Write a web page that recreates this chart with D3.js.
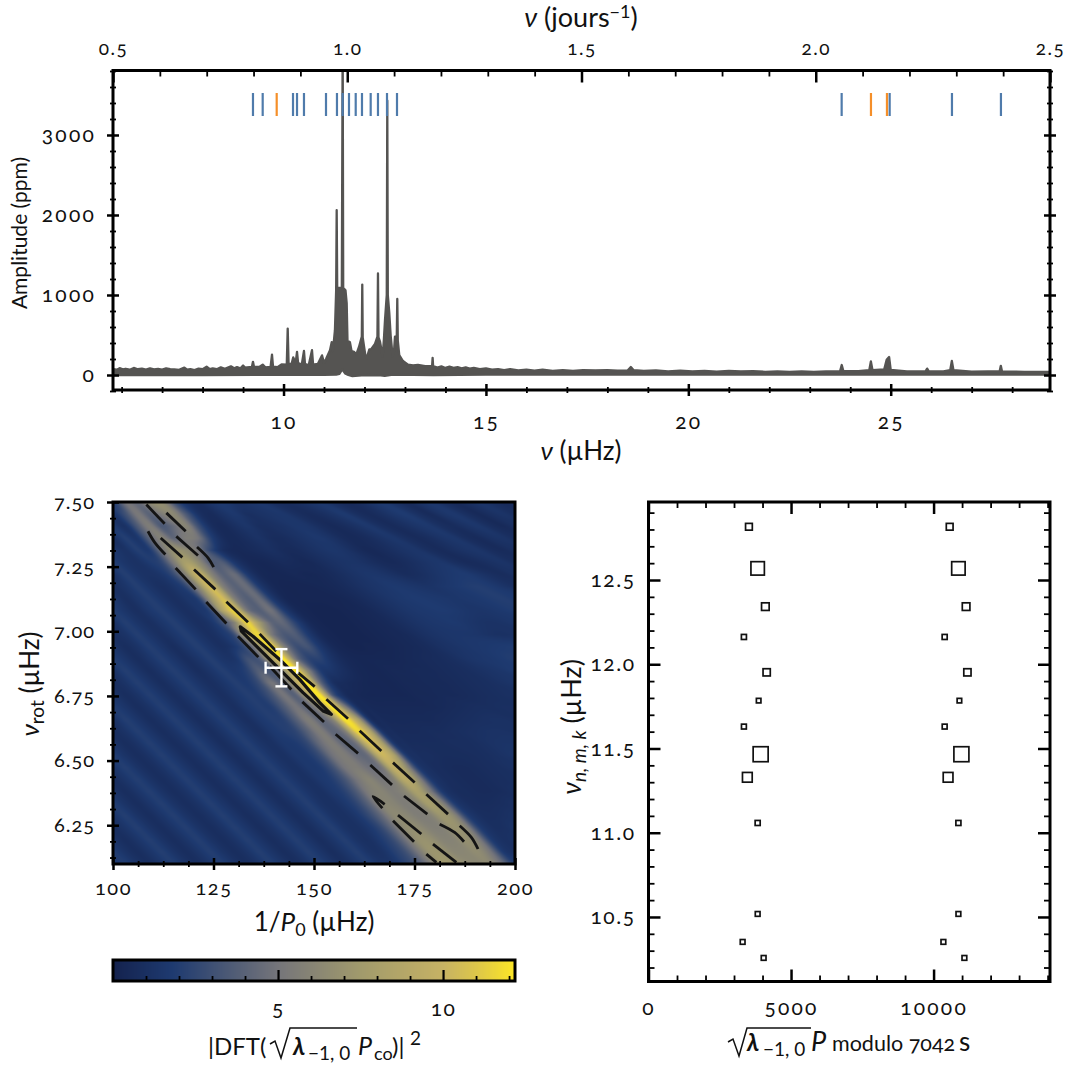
<!DOCTYPE html>
<html><head><meta charset="utf-8">
<script src="https://cdn.jsdelivr.net/npm/d3@7"></script>
<style>
html,body{margin:0;padding:0;background:#fff}
svg{position:absolute;left:0;top:0}
text{font-family:Lato,"Noto Sans",sans-serif;fill:#111;font-variant-numeric:oldstyle-nums}
.ln{font-variant-numeric:lining-nums}
</style></head><body><svg id="c" width="1071" height="1065"></svg>
<script>
// ---- spectrum: upper envelope and lower edge [frequency in uHz, amplitude in ppm] of the densely sampled curve
const specUpper=[[5.79,72],[5.88,66],[5.95,85],[6.03,70],[6.1,78],[6.2,66],[6.3,88],[6.4,72],[6.5,80],[6.6,68],[6.7,84],[6.8,70],[6.9,76],[7,66],[7.1,82],[7.2,72],[7.3,70],[7.42,64],[7.55,92],[7.62,66],[7.7,74],[7.8,62],[7.9,80],[8,72],[8.1,104],[8.18,74],[8.25,84],[8.35,72],[8.45,96],[8.55,78],[8.7,108],[8.78,84],[8.85,98],[8.93,82],[9,118],[9.05,92],[9.1,96],[9.22,102],[9.245,165],[9.27,104],[9.4,100],[9.485,130],[9.55,96],[9.68,100],[9.715,255],[9.74,106],[9.85,98],[9.95,132],[10.08,130],[10.103,580],[10.125,140],[10.2,140],[10.24,220],[10.3,150],[10.333,290],[10.36,150],[10.45,130],[10.505,300],[10.53,140],[10.62,120],[10.703,310],[10.73,130],[10.85,140],[10.95,245],[11,150],[11.05,200],[11.148,310],[11.19,410],[11.22,300],[11.27,560],[11.3,1060],[11.313,2060],[11.326,1090],[11.44,1090],[11.461,4200],[11.474,1090],[11.53,1060],[11.56,900],[11.58,430],[11.64,410],[11.68,300],[11.74,290],[11.8,260],[11.864,350],[11.934,480],[11.945,1130],[11.956,470],[12.02,250],[12.054,210],[12.12,320],[12.16,320],[12.259,390],[12.32,480],[12.333,1270],[12.346,470],[12.383,416],[12.449,230],[12.48,450],[12.506,680],[12.55,1000],[12.563,3430],[12.576,1000],[12.612,780],[12.647,490],[12.696,230],[12.73,300],[12.753,480],[12.797,470],[12.81,950],[12.823,430],[12.859,250],[12.95,175],[13.075,130],[13.2,120],[13.32,125],[13.5,110],[13.67,110],[13.683,215],[13.696,110],[13.8,92],[13.9,108],[14,88],[14.1,104],[14.2,90],[14.3,98],[14.4,84],[14.5,96],[14.6,80],[14.7,88],[14.85,74],[15,82],[15.15,66],[15.3,74],[15.45,62],[15.6,72],[15.8,58],[16,68],[16.2,54],[16.4,66],[16.65,52],[16.9,60],[17.15,50],[17.4,62],[17.7,56],[18,60],[18.25,54],[18.5,56],[18.58,100],[18.65,60],[18.9,50],[19.2,56],[19.5,46],[19.8,54],[20.1,44],[20.4,52],[20.7,42],[21,50],[21.3,44],[21.6,48],[21.9,40],[22.2,46],[22.5,38],[22.8,44],[23.1,38],[23.4,44],[23.75,48],[23.79,125],[23.83,50],[24.2,48],[24.47,60],[24.51,170],[24.55,60],[24.84,70],[24.9,190],[24.96,225],[25,65],[25.4,45],[25.86,45],[25.9,80],[25.94,45],[26.3,45],[26.47,60],[26.51,175],[26.55,60],[27,42],[27.4,45],[27.69,45],[27.72,115],[27.75,45],[28.3,40],[28.94,38]];
const specLower=[[5.79,0],[8,0],[11,2],[11.3,5],[11.38,15],[11.45,70],[11.52,20],[11.6,0],[11.7,-15],[12,0],[12.4,-5],[12.5,-10],[12.7,5],[13.7,0],[15,5],[20,5],[28.94,5]];
// ---- identified modes marked above the spectrum
const rotSplitFreq=[9.245,9.485,10.234,10.333,10.505,11.049,11.32,11.461,11.617,11.783,11.938,12.153,12.333,12.556,12.803,23.788,24.974,26.513,27.723];
const otherFreq=[9.831,24.512,24.907];
// ---- heat map of |DFT|^2 (tenths), rows from nu_rot=7.5 downward, columns from 1/P0=100 rightward
const heatRows=[
[20,50,45,65,65,30,12,8,15,18,12,14,16,10,8,10,14,16,10,6,8,14,18,12,7,12,16,10,6,10,14,10,6,10],
[14,30,52,40,55,62,35,12,7,12,16,10,12,14,15,10,7,9,13,17,10,7,10,15,18,11,7,13,16,10,6,10,13,9],
[18,12,35,55,35,45,60,30,10,6,10,14,9,10,12,15,14,9,6,8,12,16,10,7,10,14,16,10,8,12,15,9,6,10],
[10,20,15,40,58,42,55,50,22,8,6,9,12,8,8,11,14,16,12,7,6,8,12,15,10,7,9,13,15,9,7,11,13,9],
[16,12,20,18,48,68,65,50,25,9,5,6,8,10,7,7,10,13,15,13,8,5,7,10,13,14,9,7,10,13,14,9,7,10],
[20,14,12,18,25,55,80,65,38,36,15,6,4,5,7,6,5,8,11,13,13,10,7,6,8,11,14,15,10,7,8,11,13,9],
[12,20,14,12,15,28,60,100,62,40,45,18,6,4,4,5,4,5,7,10,13,15,14,11,8,9,12,15,17,18,14,10,8,11],
[10,14,20,14,10,14,25,62,105,58,40,45,18,6,3,3,3,4,5,7,10,13,15,17,16,14,13,15,17,19,20,18,14,10],
[16,10,15,20,14,10,14,22,70,105,55,38,45,18,5,3,3,3,3,4,6,9,12,15,17,18,17,16,15,16,17,19,20,18],
[20,14,10,16,20,14,10,14,25,85,112,52,38,48,20,6,3,2,2,3,4,5,8,11,14,16,17,18,17,15,14,15,17,19],
[12,20,14,10,15,20,14,10,14,30,60,115,75,42,42,22,7,3,2,2,3,4,5,7,10,13,15,16,17,15,13,12,13,15],
[10,13,20,14,10,15,20,14,10,16,30,90,115,55,35,36,18,6,3,2,2,3,4,5,6,9,12,14,15,15,14,12,11,12],
[14,9,13,20,14,9,15,20,14,10,16,32,70,120,60,30,32,16,6,3,2,3,3,4,5,6,8,11,13,15,16,17,18,19],
[20,14,9,14,20,14,9,14,20,14,14,30,35,85,120,50,24,22,12,6,4,4,4,4,5,6,7,8,10,13,15,16,18,20],
[12,20,14,9,14,20,14,9,14,20,16,22,38,35,65,120,60,20,14,9,5,4,4,5,5,6,6,7,8,9,11,13,15,18],
[9,13,20,14,9,14,20,14,10,14,20,18,28,50,40,90,120,45,12,7,5,4,4,4,5,5,6,6,7,8,9,10,12,14],
[14,9,13,20,14,9,14,20,14,10,15,20,20,32,50,40,85,120,35,9,5,4,4,4,4,5,5,6,6,7,8,9,10,11],
[20,14,9,13,20,14,9,14,20,14,10,16,20,20,35,50,42,70,120,60,12,6,5,5,5,5,5,6,7,8,9,9,10,10],
[12,20,14,9,13,20,14,9,14,20,14,10,16,20,22,38,55,42,60,120,85,14,7,6,6,6,6,7,8,9,10,11,11,10],
[9,13,20,14,9,13,20,14,9,14,20,14,10,16,20,24,40,55,42,55,115,90,18,8,7,7,8,8,9,10,11,12,12,11],
[13,9,13,20,14,9,13,20,14,9,14,20,14,11,16,18,26,45,55,42,50,105,85,18,9,8,8,8,9,9,10,12,13,13],
[20,13,9,13,20,14,9,13,20,14,9,14,20,14,11,16,18,28,48,55,45,48,100,85,20,10,9,8,8,8,9,10,12,14],
[14,20,13,9,13,20,14,9,13,20,14,9,14,20,14,11,16,18,30,50,55,48,50,95,70,20,10,8,7,7,8,9,10,12],
[9,14,20,13,9,13,20,14,9,13,20,14,9,14,20,14,11,16,20,32,50,60,52,58,90,65,20,10,8,7,7,8,9,10],
[13,9,14,20,13,9,13,20,14,9,13,20,14,9,14,20,14,11,16,22,36,55,60,55,62,80,55,18,9,8,7,7,8,10],
[20,13,9,14,20,13,9,13,20,14,9,13,20,14,9,14,20,13,11,16,24,40,60,60,55,60,78,60,20,10,8,8,9,11],
[14,20,13,9,14,20,13,9,13,20,14,9,13,20,14,9,14,20,13,11,16,26,42,62,62,56,58,72,62,22,11,9,10,12],
[9,14,20,13,9,14,20,13,9,13,20,14,9,13,20,14,9,14,20,13,11,16,26,45,65,65,58,58,70,60,22,11,10,13],
[13,9,14,20,13,9,14,20,13,9,13,20,14,9,13,20,14,9,14,20,13,11,18,28,48,68,68,60,60,68,55,20,11,12],
[20,13,9,14,20,13,9,14,20,13,9,13,20,14,9,13,20,14,9,14,20,13,12,20,30,50,70,70,62,62,65,50,18,11],
[14,20,13,9,14,20,13,9,14,20,13,9,13,20,14,9,13,20,14,9,14,20,14,14,22,32,52,72,72,65,62,62,45,20]];
// ---- dashed contour pieces, as [1/P0, nu_rot] vertices
const contourDashes=[
[[108.3,7.490],[112.85,7.416]],[[113.27,7.458],[118.08,7.387]],
[[108.7,7.387],[110.36,7.344],[113.02,7.297]],[[111.86,7.361],[117.25,7.286]],
[[115.75,7.367],[121.14,7.293]],[[120.9,7.326],[123.63,7.284],[125.04,7.248]],
[[115.59,7.245],[120.56,7.162]],[[120.15,7.239],[125.46,7.162]],
[[123.2,7.113],[128.2,7.030]],[[128.2,7.114],[133.58,7.035]],
[[131.09,6.981],[136.15,6.900]],[[136.48,6.990],[140.63,6.923]],
[[146.02,6.840],[150.17,6.786]],[[138.97,6.865],[144.36,6.775]],
[[147.1,6.727],[152.49,6.649]],[[153.07,6.737],[158.46,6.662]],
[[155.39,6.602],[160.95,6.528]],[[161.36,6.615],[166.75,6.537]],
[[164.01,6.483],[169.4,6.406]],[[169.65,6.492],[175.04,6.415]],
[[172.39,6.363],[178.19,6.293]],[[177.94,6.370],[183.33,6.293]],
[[181.26,6.254],[184.99,6.222],[187.31,6.186]],[[186.24,6.248],[189.14,6.203],[190.8,6.158]],
[[179.6,6.177],[185.41,6.106]],[[177.94,6.138],[180.43,6.106]],
[[170.9,6.289],[176.7,6.216]],[[169.65,6.267],[174.88,6.186]],
[[167,6.316],[164.68,6.361],[167.58,6.331]]];
const innerContour=[[131.67,7.017],[134.83,6.981],[141.46,6.891],[146.43,6.814],[151.41,6.724],[154.31,6.679],[152.24,6.692],[147.26,6.763],[141.46,6.853],[135.66,6.943],[131.92,7.001]];
const bestFit={x:141.9,y:6.859,xErr:3.94,yErr:0.072};
// ---- echelle diagram
const echelleNu=[12.816,12.569,12.342,12.162,11.952,11.784,11.63,11.466,11.329,11.058,10.518,10.352,10.257];
const echelleX=[3523,3829,4099,3347,4145,3864,3347,3934,3467,3829,3829,3302,4039];
const echelleAmp=[950,3420,1260,310,1125,130,250,4000,2050,310,200,200,200];
const foldPeriod=7042;
// ---- tick labels
const spectrumXTicks=[10,15,20,25], spectrumYTicks=[0,1000,2000,3000], dayTicks=[0.5,1,1.5,2,2.5];
const heatXTicks=[100,125,150,175,200], heatYTicks=[6.25,6.5,6.75,7,7.25,7.5];
const barTicks=[5,10], echelleXTicks=[0,5000,10000], echelleYTicks=[10.5,11,11.5,12,12.5];

const svg=d3.select('#c');
const NS=21;
function ticks(sel,orient,scale,vals,fmt,a,b,w,pad,fs,ls){
  const ax=orient(scale).tickValues(vals).tickSize(0).tickPadding(pad||0).tickFormat(fmt||(()=>''));
  sel.call(ax); sel.select('.domain').remove();
  const h=orient===d3.axisLeft||orient===d3.axisRight;
  sel.selectAll('.tick line').attr('stroke','#000').attr('stroke-width',w)
    .attr(h?'x1':'y1',a).attr(h?'x2':'y2',b);
  sel.attr('font-family',null).attr('font-size',null);
  sel.selectAll('text').style('font-size',(fs||NS)+'px').style('letter-spacing',(ls==null?2.2:ls)+'px').attr('fill','#111');
}
function range(a,b,s){const o=[];for(let i=0;;i++){const v=a+i*s;if(v>b+1e-9)break;o.push(+v.toFixed(6));}return o;}
function frame(x0,y0,x1,y1){svg.append('rect').attr('x',x0).attr('y',y0).attr('width',x1-x0).attr('height',y1-y0).attr('fill','none').attr('stroke','#000').attr('stroke-width',3);}
function T(x,y,size,anchor,rot){const t=svg.append('text').attr('x',x).attr('y',y).style('font-size',size+'px').attr('text-anchor',anchor||'middle');if(rot)t.attr('transform',`rotate(-90 ${x} ${y})`);return t;}
function span(t,s,o={}){const k=t.append('tspan').text(s);if(o.i)k.style('font-style','italic');if(o.size)k.style('font-size',o.size+'px');if(o.dy)k.attr('dy',o.dy);if(o.x!=null)k.attr('x',o.x);if(o.b)k.style('font-weight',700);if(o.ln)k.attr('class','ln');return k;}

// ===== spectrum panel
const L1=113,R1=1050,T1=70.5,B1=390;
const x1=d3.scaleLinear().domain([5.787,28.935]).range([L1,R1]);
const xDay=d3.scaleLinear().domain([0.5,2.5]).range([L1,R1]);
const y1=d3.scaleLinear().domain([-187.5,3806]).range([B1,T1]);
svg.append('clipPath').attr('id','c1').append('rect').attr('x',L1).attr('y',T1).attr('width',R1-L1).attr('height',B1-T1);
const outline=specUpper.concat(specLower.slice().reverse());
svg.append('path').attr('clip-path','url(#c1)')
  .attr('d',d3.line().x(d=>x1(d[0])).y(d=>y1(d[1]))(outline)+'Z')
  .attr('fill','#555452').attr('stroke','#555452').attr('stroke-width',2.3).attr('stroke-linejoin','round');
const markTop=3525,markBot=3237;
[[rotSplitFreq,'#4f7bab'],[otherFreq,'#f58f29']].forEach(([arr,col])=>{
  svg.append('g').selectAll('line').data(arr).join('line')
   .attr('x1',d=>x1(d)).attr('x2',d=>x1(d)).attr('y1',y1(markTop)).attr('y2',y1(markBot))
   .attr('stroke',col).attr('stroke-width',2.2);
});
const g=(x,y)=>svg.append('g').attr('transform',`translate(${x},${y})`);
ticks(g(0,B1),d3.axisBottom,x1,range(6,28,1).filter(v=>v%5),null,-3,3,1.8);
ticks(g(0,B1),d3.axisBottom,x1,spectrumXTicks,d3.format('d'),-6,6,2.5,24);
ticks(g(0,T1),d3.axisTop,xDay,range(0.6,2.4,0.1).filter(v=>Math.round(v*10)%5),null,0,6,1.8);
ticks(g(0,T1),d3.axisTop,xDay,dayTicks,d3.format('.1f'),0,12,2.5,16,19,1.5);
ticks(g(L1,0),d3.axisLeft,y1,range(-200,3800,200).filter(v=>v%1000),null,-3,3,1.8);
ticks(g(L1,0),d3.axisLeft,y1,spectrumYTicks,d3.format('d'),-6,6,2.5,17);
ticks(g(R1,0),d3.axisRight,y1,range(-200,3800,200).filter(v=>v%1000),null,-3,3,1.8);
ticks(g(R1,0),d3.axisRight,y1,spectrumYTicks,null,-6,6,2.5);
frame(L1,T1,R1,B1);
let t=T(581,27,27);span(t,'ν',{i:1});span(t,' (jours');span(t,'−1',{dy:-9,size:18,ln:1});span(t,')',{dy:9});
t=T(581,460,26);span(t,'ν',{i:1});span(t,' (µHz)');
T(27,233,21,'middle',1).text('Amplitude (ppm)');

// ===== heat map
const L2=113,R2=515,T2=502,B2=864;
const x2=d3.scaleLinear().domain([100,200]).range([L2,R2]);
const y2=d3.scaleLinear().domain([6.1,7.5]).range([B2,T2]);
const vStops=[0,1.8,5,7.5,10,11,12.2];
const color=d3.scaleLinear().domain(vStops).range(['#14224e','#1e3a70','#75757a','#a19a6c','#c6b264','#dcc64a','#fde725']).clamp(true);
const W=R2-L2,H=B2-T2;
const cv=document.createElement('canvas');cv.width=W;cv.height=H;
const cx=cv.getContext('2d'),im=cx.createImageData(W,H);
const nr=heatRows.length,nc=heatRows[0].length;
const col=d3.scaleLinear().domain([L2,R2]).range([0,nc-1]);
const row=d3.scaleLinear().domain([T2,B2]).range([0,nr-1]);
function cr(p0,p1,p2,p3,t){return .5*(2*p1+(p2-p0)*t+(2*p0-5*p1+4*p2-p3)*t*t+(3*p1-p0-3*p2+p3)*t*t*t);}
const at=(r,c)=>{const R=heatRows[Math.max(0,Math.min(nr-1,r))];return R[Math.max(0,Math.min(nc-1,c))]/10;};
const inRow=(r,f)=>{const c0=Math.floor(f),tc=f-c0;return cr(at(r,c0-1),at(r,c0),at(r,c0+1),at(r,c0+2),tc);};
// image interpolation between rows follows the local direction of the streaks
const shear=d3.scaleLinear().domain([-11,-7,3,8]).range([.62,1.05,1.05,2]).clamp(true);
for(let j=0;j<H;j++)for(let i=0;i<W;i++){
  const fc=col(L2+i+.5),fr=row(T2+j+.5);const r0=Math.floor(fr),tr=fr-r0;
  const s=shear(fc-(3.6+fr*0.97));
  const v=(1-tr)*inRow(r0,fc-s*tr)+tr*inRow(r0+1,fc+s*(1-tr));
  const k=d3.rgb(color(v));const o=(j*W+i)*4;im.data[o]=k.r;im.data[o+1]=k.g;im.data[o+2]=k.b;im.data[o+3]=255;
}
cx.putImageData(im,0,0);
svg.append('image').attr('x',L2).attr('y',T2).attr('width',W).attr('height',H).attr('href',cv.toDataURL());
svg.append('clipPath').attr('id','c2').append('rect').attr('x',L2).attr('y',T2).attr('width',W).attr('height',H);
const cl=d3.line().x(d=>x2(d[0])).y(d=>y2(d[1])).curve(d3.curveCatmullRom);
const cg=svg.append('g').attr('clip-path','url(#c2)');
cg.selectAll('path.dash').data(contourDashes).join('path').attr('class','dash').attr('d',cl).attr('fill','none').attr('stroke','#141414').attr('stroke-width',2.8);
cg.append('path').attr('d',d3.line().x(d=>x2(d[0])).y(d=>y2(d[1]))(innerContour)+'Z').attr('fill','none').attr('stroke','#141414').attr('stroke-width',3.2).attr('stroke-linejoin','round');
const bx=x2(bestFit.x),by=y2(bestFit.y),xa=x2(bestFit.x-bestFit.xErr),xb=x2(bestFit.x+bestFit.xErr),ya=y2(bestFit.y-bestFit.yErr),yb=y2(bestFit.y+bestFit.yErr);
const wg=svg.append('g').attr('stroke','#fff').attr('stroke-width',2.4);
[[xa,by,xb,by],[bx,ya,bx,yb],[xa,by-6,xa,by+6],[xb,by-6,xb,by+6],[bx-6,ya,bx+6,ya],[bx-6,yb,bx+6,yb]].forEach(d=>wg.append('line').attr('x1',d[0]).attr('y1',d[1]).attr('x2',d[2]).attr('y2',d[3]));
ticks(g(0,B2),d3.axisBottom,x2,range(106.25,193.75,6.25).filter(v=>v%25),null,-3,3,1.8);
ticks(g(0,B2),d3.axisBottom,x2,heatXTicks,d3.format('d'),-6,6,2.5,17,20,1.5);
ticks(g(L2,0),d3.axisLeft,y2,range(6.125,7.4375,0.0625).filter(v=>(v*4)%1),null,-3,3,1.8);
ticks(g(L2,0),d3.axisLeft,y2,heatYTicks,d3.format('.2f'),-6,6,2.5,18,20,1);
frame(L2,T2,R2,B2);
t=T(314,931,26);span(t,'1/',{ln:1});span(t,'P',{i:1});span(t,'0',{size:18,dy:5,ln:1});span(t,' (µHz)',{dy:-5});
t=T(39,684,26,'middle',1);span(t,'ν',{i:1});span(t,'rot',{size:19,dy:5});span(t,' (µHz)',{dy:-5});

// ===== colour bar
const yBar0=960,yBar1=981;
const xb2=d3.scaleLinear().domain([0,12.18]).range([L2,R2]);
svg.append('g').selectAll('rect').data(d3.range(L2,R2)).join('rect').attr('x',d=>d).attr('y',yBar0).attr('width',1.2).attr('height',yBar1-yBar0).attr('fill',d=>color(xb2.invert(d+.5)));
ticks(g(0,yBar1),d3.axisBottom,xb2,range(1,12,1).filter(v=>v%5),null,-5,0,1.8);
ticks(g(0,yBar1),d3.axisBottom,xb2,barTicks,d3.format('d'),-11,0,2.2,20,21,1.5);
frame(L2,yBar0,R2,yBar1);
const by0=1055;
t=T(208,by0,24,'start');span(t,'|DFT(');
t=T(293,by0,24,'start');span(t,'λ',{i:1,b:1});
t=T(308,by0+5,19,'start');span(t,'−1, 0',{ln:1});
T(358,by0,25,'start').append('tspan').style('font-style','italic').text('P');
T(374,by0+5,18,'start').text('co');
T(392,by0,24,'start').text(')|');
t=T(410,by0-10,19,'start');span(t,'2',{ln:1});
svg.append('path').attr('d','M270,1044 L275,1041 L281,1058 L290,1028 L357,1028').attr('fill','none').attr('stroke','#111').attr('stroke-width',1.5);

// ===== echelle
const L3=648.5,R3=1050,T3=502,B3=981.5;
const x3=d3.scaleLinear().domain([0,2*foldPeriod]).range([L3,R3]);
const y3=d3.scaleLinear().domain([10.117,12.963]).range([B3,T3]);
const side=d3.scaleLinear().domain([0,4000]).range([4.2,15]);
const pts=echelleNu.map((n,i)=>({n,x:echelleX[i],a:echelleAmp[i]}));
[0,foldPeriod].forEach(off=>{
 svg.append('g').selectAll('rect').data(pts).join('rect')
  .attr('x',d=>x3(d.x+off)-side(d.a)/2).attr('y',d=>y3(d.n)-side(d.a)/2)
  .attr('width',d=>side(d.a)).attr('height',d=>side(d.a))
  .attr('fill','none').attr('stroke','#111').attr('stroke-width',1.7);
});
const xm=range(1000,14000,1000).filter(v=>v%5000), ym=range(10.2,12.9,0.1).filter(v=>Math.round(v*10)%5);
ticks(g(0,B3),d3.axisBottom,x3,xm,null,-6,0,1.8);
ticks(g(0,B3),d3.axisBottom,x3,echelleXTicks,d3.format('d'),-12,0,2.5,19);
ticks(g(0,T3),d3.axisTop,x3,xm,null,0,6,1.8);
ticks(g(0,T3),d3.axisTop,x3,echelleXTicks,null,0,12,2.5);
ticks(g(L3,0),d3.axisLeft,y3,ym,null,0,6,1.8);
ticks(g(L3,0),d3.axisLeft,y3,echelleYTicks,d3.format('.1f'),0,12,2.5,13,21,1.5);
ticks(g(R3,0),d3.axisRight,y3,ym,null,-6,0,1.8);
ticks(g(R3,0),d3.axisRight,y3,echelleYTicks,null,-12,0,2.5);
frame(L3,T3,R3,B3);
t=T(581,727,27,'middle',1);span(t,'ν',{i:1});span(t,'n, m, k',{i:1,size:19,dy:5});span(t,' (µHz)',{dy:-5});
const ry=1051;
T(747,ry,24,'start').append('tspan').style('font-style','italic').style('font-weight',700).text('λ');
t=T(763,ry+5,19,'start');span(t,'−1, 0',{ln:1});
T(811,ry,27,'start').append('tspan').style('font-style','italic').text('P');
T(832,ry,21.5,'start').text('modulo 7042');
T(959,ry,26,'start').text('s');
svg.append('path').attr('d','M728,1042 L733,1039 L739,1056 L747,1028 L811,1028').attr('fill','none').attr('stroke','#111').attr('stroke-width',1.5);
</script></body></html>
